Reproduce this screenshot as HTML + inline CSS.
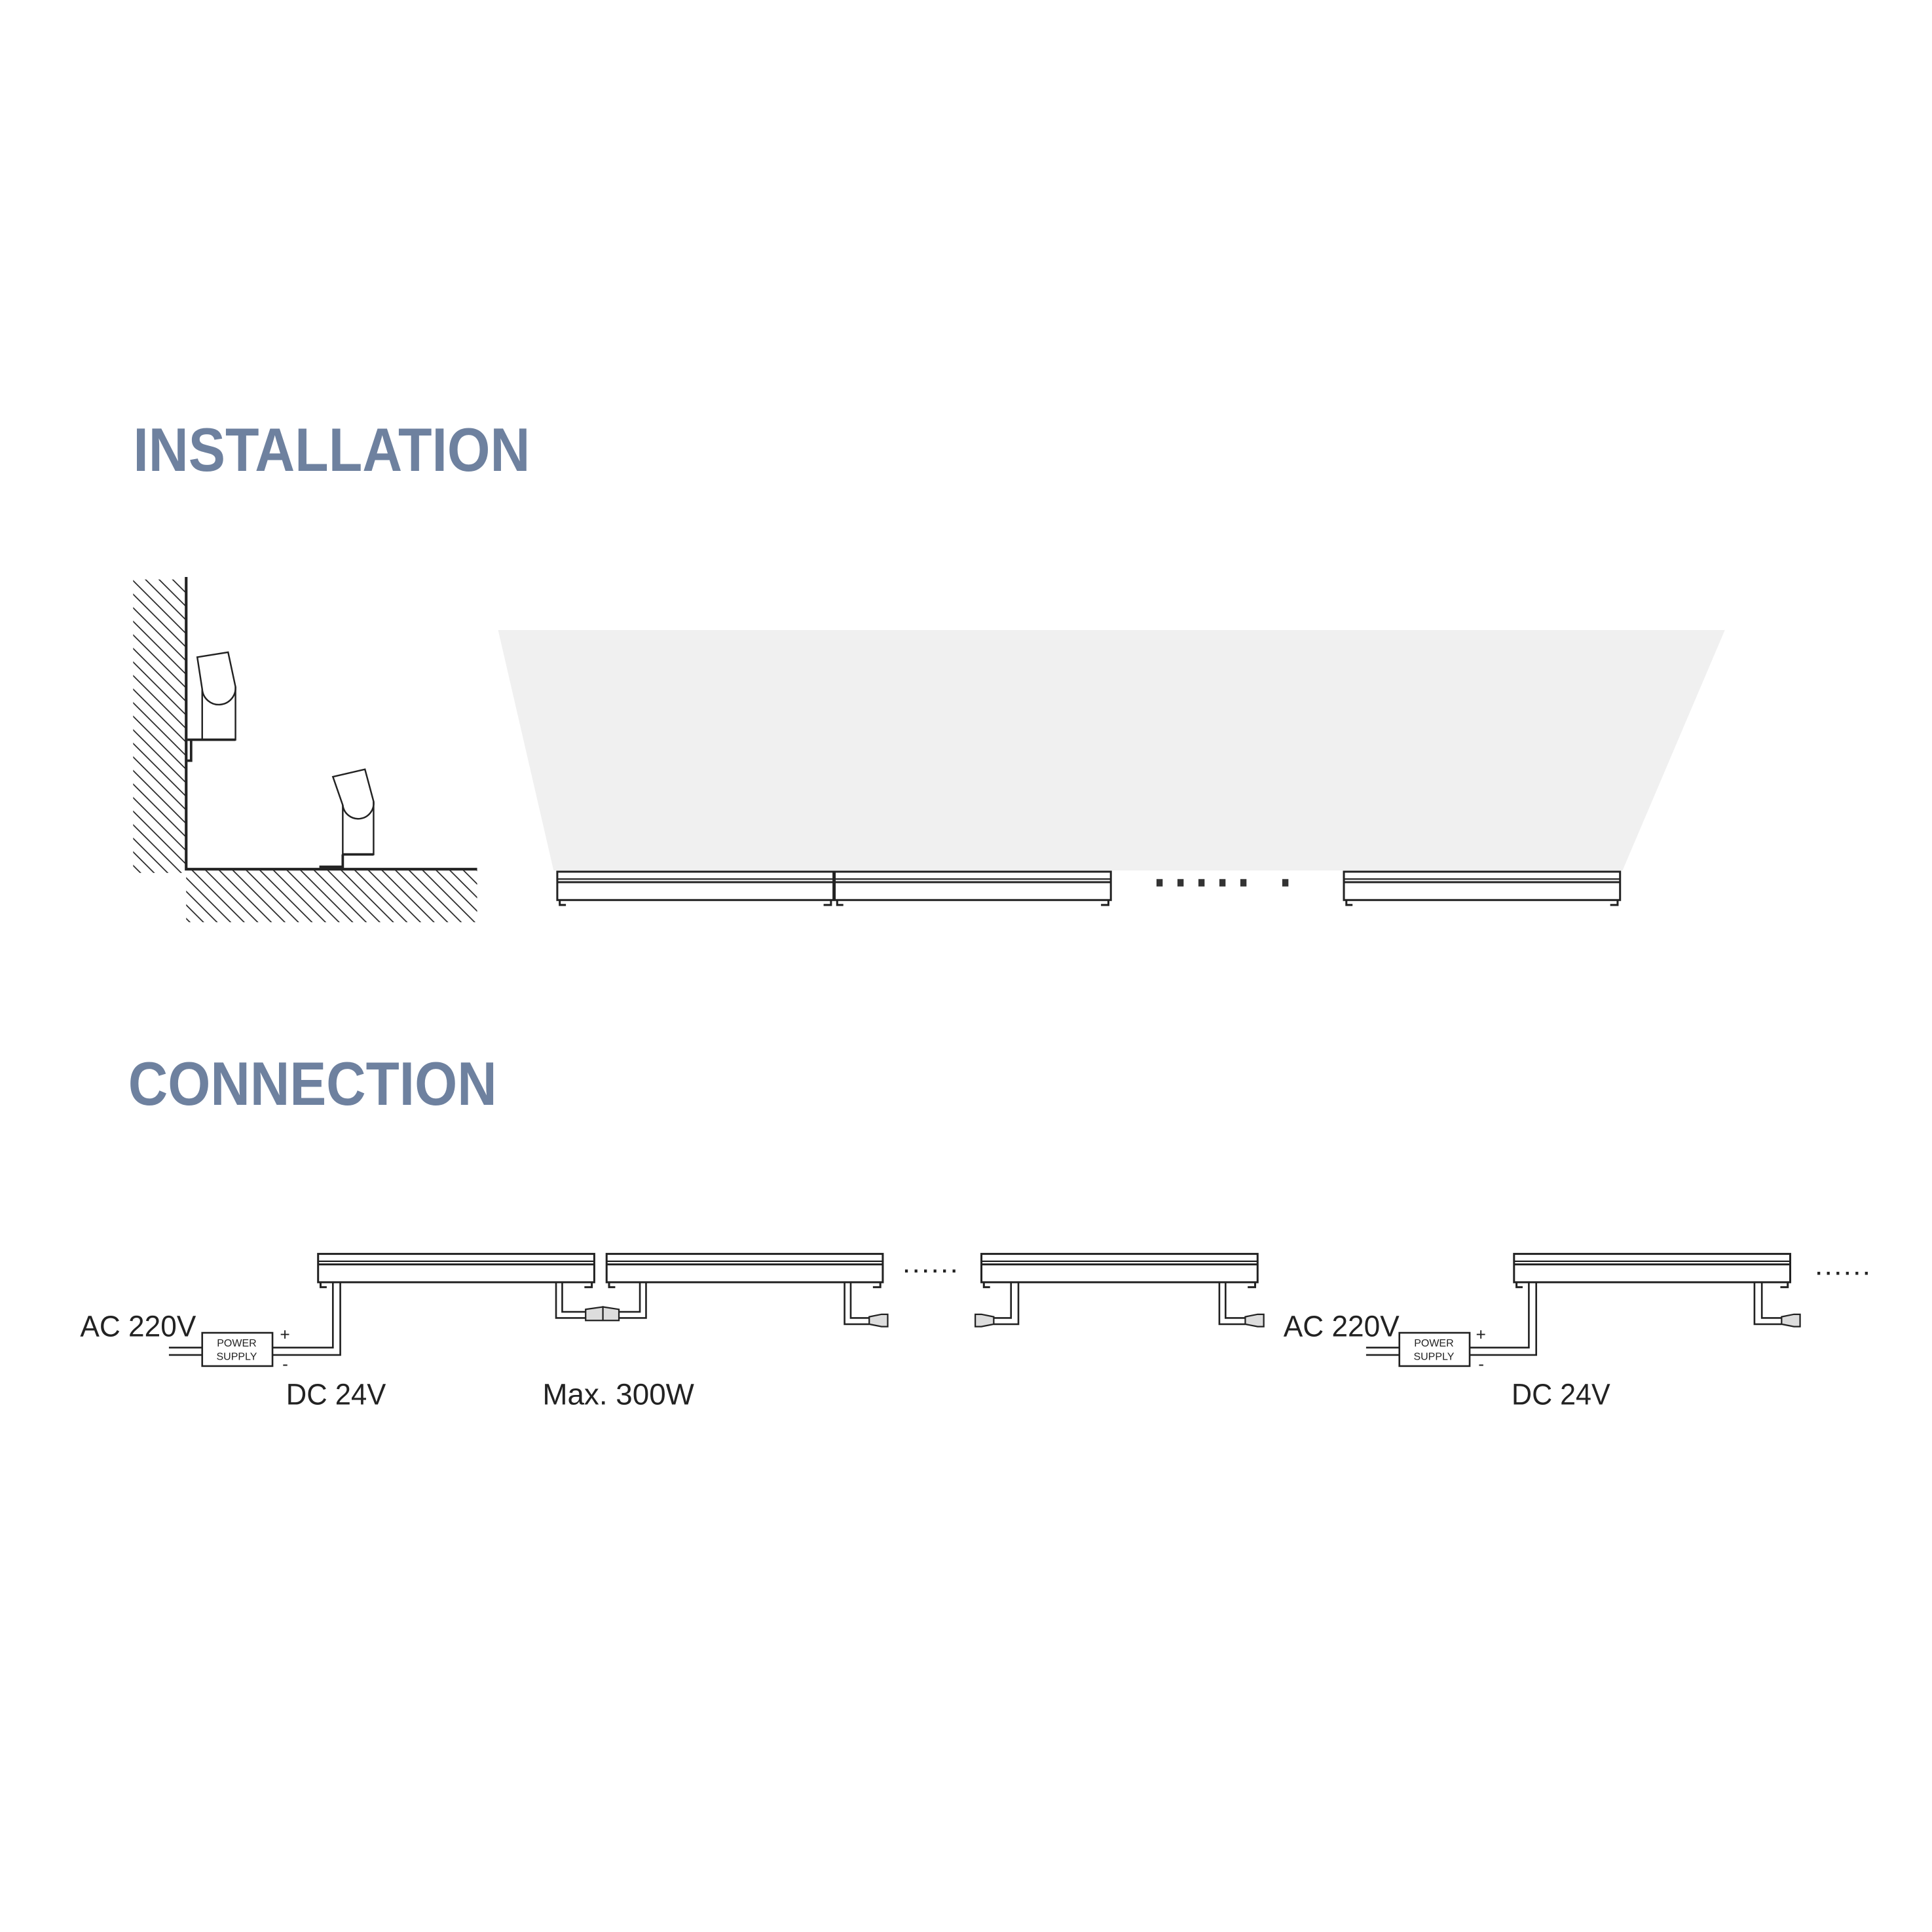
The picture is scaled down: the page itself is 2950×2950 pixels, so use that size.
<!DOCTYPE html>
<html><head><meta charset="utf-8"><style>
html,body{margin:0;padding:0;background:#fff;}
svg{display:block;}
</style></head><body>
<svg width="2950" height="2950" viewBox="0 0 1567 1567" xmlns="http://www.w3.org/2000/svg">
<defs>
<pattern id="h" width="11" height="11" patternUnits="userSpaceOnUse">
<path d="M-2,-2 L13,13 M-13,-2 L2,13 M9,-2 L24,13" stroke="#222" stroke-width="0.9"/>
</pattern>
<g id="bar">
<rect x="0" y="0" width="224" height="23" fill="#fff" stroke="#222" stroke-width="1.6"/>
<line x1="0" y1="6" x2="224" y2="6" stroke="#222" stroke-width="1.2"/>
<line x1="0" y1="8.5" x2="224" y2="8.5" stroke="#222" stroke-width="1.6"/>
<path d="M2,23 v4 h5 M216,27 h6 v-4" fill="none" stroke="#222" stroke-width="1.6"/>
</g>
<g id="plugR"><path d="M0,-4 L10,-6 L15,-6 L15,4 L10,4 L0,2 Z" fill="#ddd" stroke="#222" stroke-width="1.2"/></g>
</defs>
<rect width="1567" height="1567" fill="#fff"/>

<text x="108" y="382" font-family="Liberation Sans, sans-serif" font-weight="bold" font-size="50" fill="#6e819f" textLength="322" lengthAdjust="spacingAndGlyphs">INSTALLATION</text>
<text x="104" y="896" font-family="Liberation Sans, sans-serif" font-weight="bold" font-size="50" fill="#6e819f" textLength="299" lengthAdjust="spacingAndGlyphs">CONNECTION</text>

<rect x="108" y="470" width="43" height="238" fill="url(#h)"/>
<rect x="151" y="706" width="236" height="42" fill="url(#h)"/>
<path d="M151,468 V705 H387" fill="none" stroke="#222" stroke-width="2.2"/>
<g fill="#fff" stroke="#222" stroke-width="1.3">
<path d="M160,533 L185,529 L191,557 L191,600 L164,600 L164,559 Z"/>
<path d="M164,559 A13.5,13.5 0 0 0 191,557" fill="none"/>
<path d="M152,600 H191 M155,600 V617 H152" fill="none" stroke-width="2"/>
</g>
<g fill="#fff" stroke="#222" stroke-width="1.3">
<path d="M270,630 L296,624 L303,650 L303,693 L278,693 L278,653 Z"/>
<path d="M278,653 A12.5,12.5 0 0 0 303,650" fill="none"/>
<path d="M278,693 H303 M278,693 V703 H259" fill="none" stroke-width="2"/>
</g>

<path d="M404,511 L1399,511 L1316,706 L449,706 Z" fill="#f0f0f0"/>
<use href="#bar" x="452" y="707"/>
<use href="#bar" x="677" y="707"/>
<use href="#bar" x="1090" y="707"/>
<g fill="#333">
<rect x="938" y="713" width="5" height="6"/><rect x="955" y="713" width="5" height="6"/>
<rect x="972" y="713" width="5" height="6"/><rect x="989" y="713" width="5" height="6"/>
<rect x="1006" y="713" width="5" height="6"/><rect x="1040" y="713" width="5" height="6"/>
</g>

<g font-family="Liberation Sans, sans-serif" fill="#222">
<text x="65" y="1084" font-size="24" textLength="94" lengthAdjust="spacingAndGlyphs">AC 220V</text>
<text x="232" y="1139" font-size="24" textLength="81" lengthAdjust="spacingAndGlyphs">DC 24V</text>
<text x="440" y="1139" font-size="24" textLength="123" lengthAdjust="spacingAndGlyphs">Max. 300W</text>
<text x="1041" y="1084" font-size="24" textLength="94" lengthAdjust="spacingAndGlyphs">AC 220V</text>
<text x="1226" y="1139" font-size="24" textLength="80" lengthAdjust="spacingAndGlyphs">DC 24V</text>
<text x="733" y="1032" font-size="16" font-weight="bold" textLength="43">......</text>
<text x="1473" y="1034" font-size="16" font-weight="bold" textLength="43">......</text>
</g>

<use href="#bar" x="258" y="1017"/>
<use href="#bar" x="492" y="1017"/>
<use href="#bar" x="796" y="1017"/>
<use href="#bar" x="1228" y="1017"/>

<g fill="none" stroke="#222" stroke-width="1.4">
<rect x="164" y="1081" width="57" height="27" fill="#fff"/>
<path d="M137,1093 H164 M137,1099 H164"/>
<path d="M221,1093 H270 V1040 M221,1099 H276 V1040"/>
<path d="M456,1040 V1064 H475 M451,1040 V1069 H475"/>
<path d="M502,1064 H519 V1040 M502,1069 H524 V1040"/>
<path d="M690,1040 V1069 H705 M685,1040 V1074 H705"/>
<path d="M820,1040 V1069 H806 M826,1040 V1074 H806"/>
<path d="M994,1040 V1069 H1010 M989,1040 V1074 H1010"/>
<rect x="1135" y="1081" width="57" height="27" fill="#fff"/>
<path d="M1108,1093 H1135 M1108,1099 H1135"/>
<path d="M1192,1093 H1240 V1040 M1192,1099 H1246 V1040"/>
<path d="M1429,1040 V1069 H1445 M1423,1040 V1074 H1445"/>
</g>
<path d="M475,1062 L489,1060 L489,1071 L475,1071 Z M489,1060 L502,1062 L502,1071 L489,1071 Z" fill="#ddd" stroke="#222" stroke-width="1.2"/>
<use href="#plugR" x="705" y="1072"/>
<use href="#plugR" x="1010" y="1072"/>
<use href="#plugR" x="1445" y="1072"/>
<g transform="translate(806,1072) scale(-1,1)"><use href="#plugR"/></g>

<g font-family="Liberation Sans, sans-serif" fill="#222">
<text x="192" y="1092" font-size="8.5" text-anchor="middle">POWER</text>
<text x="192" y="1103" font-size="8.5" text-anchor="middle">SUPPLY</text>
<text x="1163" y="1092" font-size="8.5" text-anchor="middle">POWER</text>
<text x="1163" y="1103" font-size="8.5" text-anchor="middle">SUPPLY</text>
<text x="227" y="1087" font-size="14">+</text>
<text x="229" y="1111" font-size="14">-</text>
<text x="1197" y="1087" font-size="14">+</text>
<text x="1199" y="1111" font-size="14">-</text>
</g>
</svg>
</body></html>
